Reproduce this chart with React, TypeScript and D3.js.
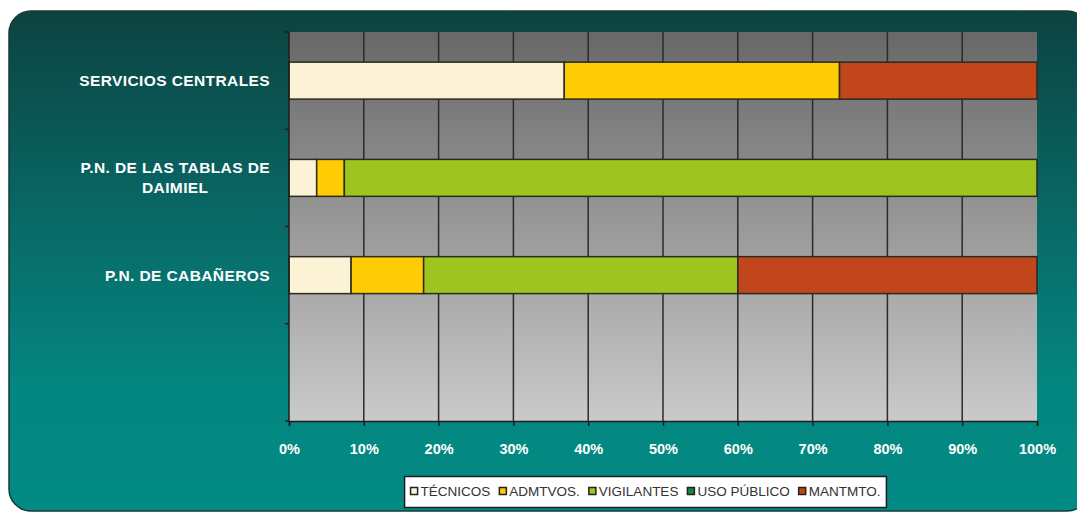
import React, { useRef, useEffect } from "react";
import * as d3 from "d3";

const categories = [
  "SERVICIOS CENTRALES",
  "P.N. DE LAS TABLAS DE\nDAIMIEL",
  "P.N. DE CABAÑEROS",
  "",
];
const seriesNames = ["TÉCNICOS", "ADMTVOS.", "VIGILANTES", "USO PÚBLICO", "MANTMTO."];
const tecnicos = [36.8, 3.7, 8.3, 0];
const admtvos = [36.8, 3.7, 9.7, 0];
const vigilantes = [0, 92.6, 42.0, 0];
const usoPublico = [0, 0, 0, 0];
const mantmto = [26.4, 0, 40.0, 0];
const xTicks = [0, 10, 20, 30, 40, 50, 60, 70, 80, 90, 100];

const colors = ["#fcf2d6", "#ffcb05", "#9dc41f", "#15893b", "#c1461b"];

const App = () => {
  const ref = useRef<SVGSVGElement>(null);

  useEffect(() => {
    if (!ref.current) return;
    const svg = d3.select(ref.current);
    svg.selectAll("*").remove();

    const W = 1077;
    const H = 513;
    const plot = { left: 289, right: 1037, top: 32, bottom: 421 };
    const font = "'Liberation Sans', Arial, sans-serif";

    const defs = svg.append("defs");
    const bg = defs
      .append("linearGradient")
      .attr("id", "panelGrad")
      .attr("x1", 0)
      .attr("y1", 0)
      .attr("x2", 0)
      .attr("y2", 1);
    bg.append("stop").attr("offset", "0%").attr("stop-color", "#0c4341");
    bg.append("stop").attr("offset", "45%").attr("stop-color", "#086c69");
    bg.append("stop").attr("offset", "75%").attr("stop-color", "#048680");
    bg.append("stop").attr("offset", "100%").attr("stop-color", "#038a84");

    const pg = defs
      .append("linearGradient")
      .attr("id", "plotGrad")
      .attr("x1", 0)
      .attr("y1", 0)
      .attr("x2", 0)
      .attr("y2", 1);
    pg.append("stop").attr("offset", "0%").attr("stop-color", "#686868");
    pg.append("stop").attr("offset", "100%").attr("stop-color", "#cacaca");

    svg.append("rect").attr("width", W).attr("height", H).attr("fill", "#ffffff");

    svg
      .append("rect")
      .attr("x", 9)
      .attr("y", 11)
      .attr("width", 1080)
      .attr("height", 500)
      .attr("rx", 22)
      .attr("fill", "url(#panelGrad)")
      .attr("stroke", "#163a39")
      .attr("stroke-width", 1.5);

    svg
      .append("rect")
      .attr("x", plot.left)
      .attr("y", plot.top)
      .attr("width", plot.right - plot.left)
      .attr("height", plot.bottom - plot.top)
      .attr("fill", "url(#plotGrad)");

    const x = d3.scaleLinear().domain([0, 100]).range([plot.left, plot.right]);
    const y = d3
      .scaleBand<string>()
      .domain(categories.map((c, i) => String(i)))
      .range([plot.top, plot.bottom])
      .paddingInner(0.62)
      .paddingOuter(0.31);

    // vertical gridlines
    svg
      .append("g")
      .selectAll("line")
      .data(xTicks.filter((t) => t > 0 && t < 100))
      .join("line")
      .attr("x1", (d) => x(d))
      .attr("x2", (d) => x(d))
      .attr("y1", plot.top)
      .attr("y2", plot.bottom)
      .attr("stroke", "#2b2b2b")
      .attr("stroke-width", 1.5);

    // stacked bars
    const rows = categories.map((c, i) => ({
      key: String(i),
      s0: tecnicos[i],
      s1: admtvos[i],
      s2: vigilantes[i],
      s3: usoPublico[i],
      s4: mantmto[i],
    }));
    const keys = ["s0", "s1", "s2", "s3", "s4"];
    const stacked = d3.stack<any>().keys(keys)(rows);

    stacked.forEach((layer, li) => {
      svg
        .append("g")
        .selectAll("rect")
        .data(layer.filter((d) => d[1] - d[0] > 0))
        .join("rect")
        .attr("x", (d) => x(d[0]))
        .attr("width", (d) => x(d[1]) - x(d[0]))
        .attr("y", (d) => y(d.data.key) as number)
        .attr("height", y.bandwidth())
        .attr("fill", colors[li])
        .attr("stroke", "#2a2a1e")
        .attr("stroke-width", 1.5);
    });

    // axes
    const xAxis = svg
      .append("g")
      .attr("transform", `translate(0,${plot.bottom})`)
      .call(
        d3
          .axisBottom(x)
          .tickValues(xTicks)
          .tickSize(5)
          .tickFormat((d) => `${d}%`)
      );
    xAxis.select(".domain").attr("stroke", "#1e1e1e").attr("stroke-width", 1.5);
    xAxis.selectAll(".tick line").attr("stroke", "#1e1e1e").attr("stroke-width", 1.5);
    xAxis
      .selectAll(".tick text")
      .attr("fill", "#ffffff")
      .attr("font-family", font)
      .attr("font-weight", "bold")
      .attr("font-size", 14.5)
      .attr("y", 23);

    const yAxis = svg.append("g");
    yAxis
      .append("line")
      .attr("x1", plot.left)
      .attr("x2", plot.left)
      .attr("y1", plot.top)
      .attr("y2", plot.bottom)
      .attr("stroke", "#1e1e1e")
      .attr("stroke-width", 1.5);
    yAxis
      .selectAll("line.tk")
      .data(d3.range(categories.length + 1))
      .join("line")
      .attr("class", "tk")
      .attr("x1", plot.left - 4)
      .attr("x2", plot.left)
      .attr("y1", (i) => plot.top + i * y.step())
      .attr("y2", (i) => plot.top + i * y.step())
      .attr("stroke", "#1e1e1e")
      .attr("stroke-width", 1.5);

    // category labels
    categories.forEach((c, i) => {
      if (!c) return;
      const lines = c.split("\n");
      const g = svg.append("g");
      const cy = (y(String(i)) as number) + y.bandwidth() / 2;
      const texts = g
        .selectAll("text")
        .data(lines)
        .join("text")
        .attr("y", (d, j) => cy + (j - (lines.length - 1) / 2) * 20)
        .attr("dy", "0.35em")
        .attr("fill", "#ffffff")
        .attr("font-family", font)
        .attr("font-weight", "bold")
        .attr("font-size", 15.5)
        .attr("letter-spacing", 0.4)
        .attr("text-anchor", "middle")
        .text((d) => d);
      let maxW = 0;
      texts.each(function () {
        maxW = Math.max(maxW, (this as SVGTextElement).getComputedTextLength());
      });
      texts.attr("x", 270 - maxW / 2);
    });

    // legend
    const lg = svg.append("g");
    const box = lg
      .append("rect")
      .attr("fill", "#ffffff")
      .attr("stroke", "#1e1e1e")
      .attr("stroke-width", 1.5);
    let cx = 0;
    seriesNames.forEach((name, i) => {
      const it = lg.append("g");
      it.append("rect")
        .attr("x", cx)
        .attr("y", -4)
        .attr("width", 7)
        .attr("height", 7)
        .attr("fill", colors[i])
        .attr("stroke", "#222")
        .attr("stroke-width", 1.5);
      const t = it
        .append("text")
        .attr("x", cx + 10)
        .attr("y", 0)
        .attr("dy", "0.35em")
        .attr("fill", "#333333")
        .attr("font-family", font)
        .attr("font-size", 13.5)
        .text(name);
      const w = (t.node() as SVGTextElement).getComputedTextLength();
      cx += 10 + w + 9;
    });
    const total = cx - 9;
    const lx = 645.5 - total / 2;
    lg.attr("transform", `translate(${lx},491.5)`);
    box
      .attr("x", -6)
      .attr("y", -15)
      .attr("width", total + 12)
      .attr("height", 31);
  }, []);

  return (
    <svg
      ref={ref}
      width={1077}
      height={513}
      style={{ position: "absolute", left: 0, top: 0 }}
    />
  );
};

export default App;
